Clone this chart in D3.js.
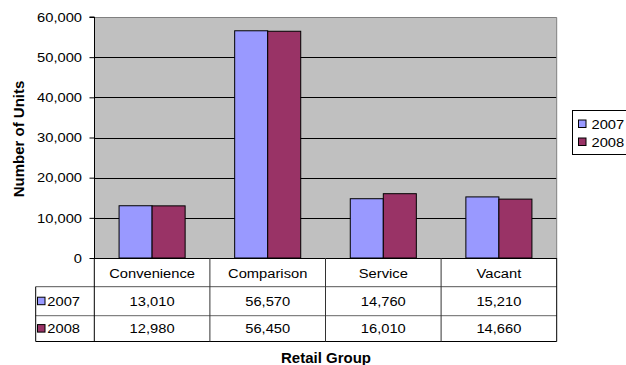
<!DOCTYPE html>
<html>
<head>
<meta charset="utf-8">
<script src="https://cdn.jsdelivr.net/npm/d3@7"></script>
<style>
  html, body { margin: 0; padding: 0; background: #fff; }
  svg { display: block; font-family: "Liberation Sans", Arial, sans-serif; }
</style>
</head>
<body>
<svg id="chart" width="626" height="365"></svg>
<script>
// Retail units by group, 2007 vs 2008
const categories = ["Convenience", "Comparison", "Service", "Vacant"];
const seriesNames = ["2007", "2008"];
const values2007 = [13010, 56570, 14760, 15210];
const values2008 = [12980, 56450, 16010, 14660];
const yTicks = [0, 10000, 20000, 30000, 40000, 50000, 60000];
const colors = ["#9999FF", "#993366"];

const seriesValues = [values2007, values2008];
const fmt = d3.format(",");

const svg = d3.select("#chart");
const plot = { left: 94.3, right: 556.7, top: 17, bottom: 258 };
const SX = 1.09;          // horizontal stretch of the regular labels
const FS = 13.5;          // regular label size

const x0 = d3.scaleBand().domain(categories).range([plot.left, plot.right]).padding(0);
const x1 = d3.scaleBand().domain(seriesNames).range([0, x0.bandwidth()])
  .paddingInner(0).paddingOuter(0.75);
const y = d3.scaleLinear().domain([0, 60000]).range([plot.bottom, plot.top]);

// helper: stretched text
function label(parent, x, yPos, txt, anchor, opts = {}) {
  const g = parent.append("g").attr("transform", `translate(${x},${yPos})`);
  g.append("text")
    .attr("transform", `scale(${opts.sx ?? SX},1)`)
    .attr("text-anchor", anchor)
    .attr("dominant-baseline", "central")
    .attr("font-size", opts.size ?? FS)
    .attr("font-weight", opts.weight ?? "normal")
    .attr("fill", "#000")
    .text(txt);
  return g;
}

// plot background
svg.append("rect")
  .attr("x", plot.left).attr("y", plot.top)
  .attr("width", plot.right - plot.left).attr("height", plot.bottom - plot.top)
  .attr("fill", "#C0C0C0");

// gridlines
svg.append("g").selectAll("line")
  .data(yTicks.filter(d => d > 0 && d < 60000))
  .join("line")
  .attr("x1", plot.left).attr("x2", plot.right)
  .attr("y1", d => Math.round(y(d)) + 0.5).attr("y2", d => Math.round(y(d)) + 0.5)
  .attr("stroke", "#000").attr("stroke-width", 1);

// plot border (top / right grey)
svg.append("path")
  .attr("d", `M${plot.left},${plot.top + 0.5}H${plot.right}V${plot.bottom}`)
  .attr("fill", "none").attr("stroke", "#808080").attr("stroke-width", 1);

// bars
const groups = svg.append("g").selectAll("g")
  .data(categories)
  .join("g")
  .attr("transform", d => `translate(${x0(d)},0)`);

groups.selectAll("rect")
  .data((d, i) => seriesNames.map((s, j) => ({ s, v: seriesValues[j][i], j })))
  .join("rect")
  .attr("x", d => x1(d.s))
  .attr("y", d => y(d.v))
  .attr("width", x1.bandwidth())
  .attr("height", d => plot.bottom - y(d.v))
  .attr("fill", d => colors[d.j])
  .attr("stroke", "#000").attr("stroke-width", 1);

// y axis
const yAxis = d3.axisLeft(y).tickValues(yTicks).tickSize(5).tickFormat("");
const yg = svg.append("g")
  .attr("transform", `translate(${Math.round(plot.left) + 0.5},0)`)
  .call(yAxis);
yg.select(".domain").attr("stroke", "#000").attr("d", `M-5,${plot.top}H0V${plot.bottom}`);
yg.selectAll(".tick line").attr("stroke", "#000");
yTicks.forEach(t => label(svg, 82, y(t), fmt(t), "end"));

// data table
const tbl = { left: 35.7, top: plot.bottom, r1: 286.7, r2: 315.7, bottom: 341.5 };
const lines = svg.append("g").attr("fill", "none").attr("stroke-width", 1);
// horizontal rules
lines.append("line").attr("x1", plot.left).attr("x2", plot.right)
  .attr("y1", tbl.top + 0.5).attr("y2", tbl.top + 0.5).attr("stroke", "#000");
lines.append("line").attr("x1", tbl.left).attr("x2", plot.right)
  .attr("y1", tbl.r1).attr("y2", tbl.r1).attr("stroke", "#555");
lines.append("line").attr("x1", tbl.left).attr("x2", plot.right)
  .attr("y1", tbl.r2).attr("y2", tbl.r2).attr("stroke", "#666");
lines.append("line").attr("x1", tbl.left).attr("x2", plot.right)
  .attr("y1", tbl.bottom).attr("y2", tbl.bottom).attr("stroke", "#000");
// vertical rules
lines.append("line").attr("x1", tbl.left).attr("x2", tbl.left)
  .attr("y1", tbl.r1).attr("y2", tbl.bottom).attr("stroke", "#000");
const vx = [x0.range()[0], ...categories.map(c => x0(c) + x0.bandwidth())];
lines.selectAll(".v").data(vx).join("line")
  .attr("x1", d => d).attr("x2", d => d)
  .attr("y1", tbl.top).attr("y2", tbl.bottom)
  .attr("stroke", (d, i) => (i === 0 ? "#000" : i === vx.length - 1 ? "#000" : "#333"));

// column headers
const headY = (tbl.top + tbl.r1) / 2 + 0.5;
categories.forEach(c => label(svg, x0(c) + x0.bandwidth() / 2, headY, c, "middle"));

// rows
const rowY = [(tbl.r1 + tbl.r2) / 2, (tbl.r2 + tbl.bottom) / 2];
seriesNames.forEach((s, j) => {
  svg.append("rect")
    .attr("x", 37.5).attr("y", rowY[j] - 4)
    .attr("width", 7.5).attr("height", 7.5)
    .attr("fill", colors[j]).attr("stroke", "#000").attr("stroke-width", 1);
  label(svg, 47.3, rowY[j], s, "start");
  categories.forEach((c, i) => {
    label(svg, x0(c) + x0.bandwidth() / 2, rowY[j], fmt(seriesValues[j][i]), "middle");
  });
});

// legend
const leg = svg.append("g");
leg.append("rect")
  .attr("x", 572.5).attr("y", 110.5).attr("width", 60).attr("height", 44)
  .attr("fill", "#fff").attr("stroke", "#000").attr("stroke-width", 1);
seriesNames.forEach((s, j) => {
  const cy = 124 + j * 18;
  leg.append("rect")
    .attr("x", 578.5).attr("y", cy - 4)
    .attr("width", 7.5).attr("height", 7.5)
    .attr("fill", colors[j]).attr("stroke", "#000").attr("stroke-width", 1);
  label(leg, 591.5, cy, s, "start");
});

// axis titles
svg.append("text")
  .attr("transform", `translate(18,139) rotate(-90)`)
  .attr("text-anchor", "middle")
  .attr("dominant-baseline", "central")
  .attr("font-size", 15).attr("font-weight", "bold")
  .text("Number of Units");
label(svg, 326, 357.5, "Retail Group", "middle", { sx: 1, size: 15, weight: "bold" });
</script>
</body>
</html>
